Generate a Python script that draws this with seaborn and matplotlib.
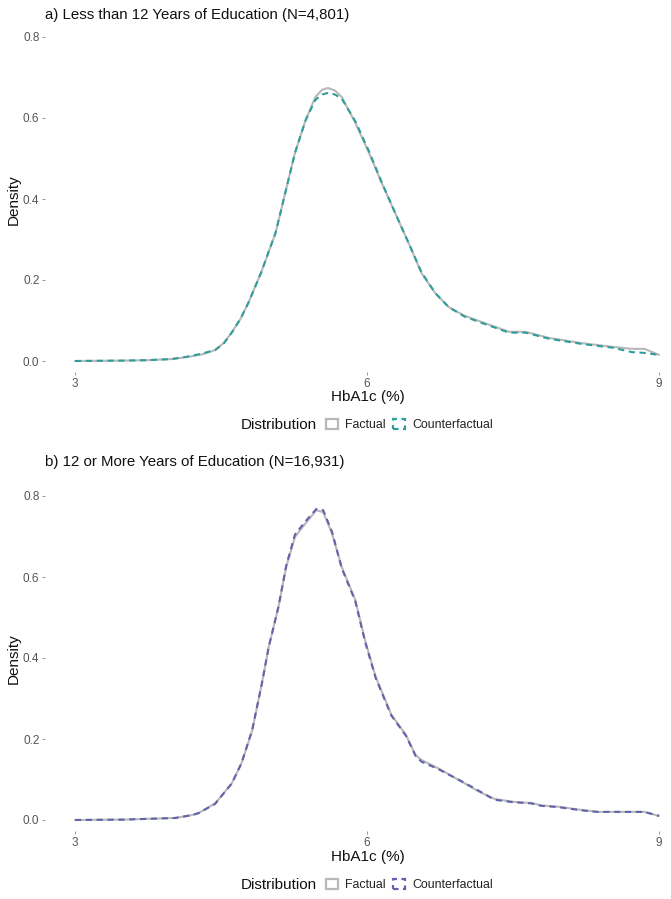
import matplotlib
matplotlib.use("Agg")
import matplotlib.pyplot as plt
import seaborn as sns
import pandas as pd
from matplotlib.patches import Rectangle

sns.set_theme(style="white")
plt.rcParams['font.family'] = ['Liberation Sans', 'DejaVu Sans']

# ---- Data ----
a_fact_x = [3.0, 3.5, 3.75, 4.0, 4.16, 4.3, 4.44, 4.53, 4.61, 4.7, 4.78, 4.91, 5.06, 5.16, 5.26,
            5.37, 5.47, 5.54, 5.60, 5.67, 5.74, 5.88, 6.02, 6.15, 6.29, 6.43, 6.56, 6.70, 6.84,
            7.0, 7.18, 7.32, 7.46, 7.63, 7.87, 8.21, 8.52, 8.72, 8.85, 9.0]
a_fact_y = [0.000, 0.001, 0.002, 0.005, 0.010, 0.016, 0.027, 0.045, 0.070, 0.104, 0.143, 0.217,
            0.316, 0.415, 0.514, 0.595, 0.652, 0.670, 0.674, 0.668, 0.652, 0.588, 0.514, 0.440,
            0.365, 0.290, 0.217, 0.168, 0.133, 0.112, 0.096, 0.084, 0.072, 0.072, 0.057, 0.044,
            0.035, 0.030, 0.030, 0.015]
a_cf_x = a_fact_x
a_cf_y = [0.000, 0.001, 0.002, 0.005, 0.011, 0.018, 0.027, 0.044, 0.070, 0.104, 0.143, 0.217,
          0.316, 0.415, 0.514, 0.595, 0.645, 0.658, 0.662, 0.658, 0.648, 0.592, 0.518, 0.442,
          0.365, 0.290, 0.219, 0.168, 0.133, 0.110, 0.094, 0.082, 0.070, 0.070, 0.055, 0.042,
          0.033, 0.022, 0.020, 0.015]

b_fact_x = [3.0, 3.5, 4.03, 4.2, 4.27, 4.44, 4.61, 4.71, 4.82, 4.92, 4.99, 5.09, 5.17, 5.26,
            5.37, 5.48, 5.55, 5.64, 5.74, 5.88, 5.98, 6.09, 6.25, 6.4, 6.5, 6.56, 6.73, 7.0,
            7.15, 7.31, 7.5, 7.69, 7.79, 7.96, 8.2, 8.37, 8.71, 8.85, 9.0]
b_fact_y = [0.000, 0.001, 0.005, 0.012, 0.017, 0.041, 0.090, 0.140, 0.220, 0.337, 0.427, 0.526,
            0.625, 0.699, 0.733, 0.765, 0.760, 0.708, 0.625, 0.543, 0.444, 0.353, 0.260, 0.210,
            0.160, 0.148, 0.128, 0.091, 0.070, 0.052, 0.045, 0.042, 0.036, 0.033, 0.025, 0.020,
            0.020, 0.020, 0.010]
b_cf_x = b_fact_x
b_cf_y = [0.000, 0.001, 0.005, 0.012, 0.017, 0.040, 0.090, 0.140, 0.222, 0.337, 0.427, 0.526,
          0.628, 0.705, 0.738, 0.768, 0.765, 0.712, 0.622, 0.540, 0.440, 0.350, 0.258, 0.208,
          0.158, 0.144, 0.126, 0.092, 0.072, 0.050, 0.044, 0.041, 0.035, 0.032, 0.024, 0.020,
          0.020, 0.020, 0.010]

titles = ["a) Less than 12 Years of Education (N=4,801)",
          "b) 12 or More Years of Education (N=16,931)"]
series_names = ["Factual", "Counterfactual"]
x_ticks = [3, 6, 9]
y_ticks = [0.0, 0.2, 0.4, 0.6, 0.8]
cf_colors = ["#2e9e9b", "#6262ad"]
fact_color = "#b8b8b8"

W, H = 671, 899
fig = plt.figure(figsize=(W / 100, H / 100), dpi=100)

def px_axes(left, top, right, bottom):
    return fig.add_axes([left / W, 1 - bottom / H, (right - left) / W, (bottom - top) / H])

panels = [
    dict(fx=a_fact_x, fy=a_fact_y, cx=a_cf_x, cy=a_cf_y, top=28, bottom=372, title_y=15,
         xlab_y=397, leg_y=425),
    dict(fx=b_fact_x, fy=b_fact_y, cx=b_cf_x, cy=b_cf_y, top=487, bottom=831, title_y=462,
         xlab_y=857, leg_y=885),
]

# x: 3 -> px 75, 9 -> px 659
x_per = (659 - 75) / 6.0
left_px, right_px = 45, 668
xlim = (3 - (75 - left_px) / x_per, 9 + (right_px - 659) / x_per)

for i, p in enumerate(panels):
    ax = px_axes(left_px, p["top"], right_px, p["bottom"])
    df = pd.concat([
        pd.DataFrame({"HbA1c": p["fx"], "Density": p["fy"], "Distribution": "Factual"}),
        pd.DataFrame({"HbA1c": p["cx"], "Density": p["cy"], "Distribution": "Counterfactual"}),
    ])
    sns.lineplot(data=df, x="HbA1c", y="Density", hue="Distribution", style="Distribution",
                 palette={"Factual": fact_color, "Counterfactual": cf_colors[i]},
                 dashes={"Factual": "", "Counterfactual": (3, 2.2)},
                 linewidth=1.5, legend=False, ax=ax, sort=False, estimator=None)
    y_per = ((p["bottom"] - 11) - (p["top"] + 9)) / 0.8
    ax.set_ylim(-11 / y_per, 0.8 + 9 / y_per)
    ax.set_xlim(*xlim)
    for s in ax.spines.values():
        s.set_visible(False)
    ax.set_xticks(x_ticks)
    ax.set_xticklabels([str(t) for t in x_ticks])
    ax.set_yticks(y_ticks)
    ax.set_yticklabels([f"{t:.1f}" for t in y_ticks])
    ax.tick_params(axis="both", which="both", length=2.5, width=0.6, color="#888888",
                   labelcolor="#555555", labelsize=8.5, pad=1.5, bottom=True, left=True)
    ax.set_xlabel("")
    ax.set_ylabel("Density", fontsize=11, color="#111111")
    ax.yaxis.set_label_coords(-(left_px - 21) / (right_px - left_px), 0.5)
    ax.grid(False)
    ax.set_facecolor("white")

    fig.text(45 / W, 1 - p["title_y"] / H, titles[i], fontsize=10.8, color="#111111",
             ha="left", va="center")
    fig.text(368 / W, 1 - p["xlab_y"] / H, "HbA1c (%)", fontsize=11, color="#111111",
             ha="center", va="center")
    fig.text(241 / W, 1 - p["leg_y"] / H, "Distribution", fontsize=11, color="#111111",
             ha="left", va="center")
    handles = [
        Rectangle((0, 0), 1, 1, facecolor="white", edgecolor=fact_color, linewidth=1.6),
        Rectangle((0, 0), 1, 1, facecolor="white", edgecolor=cf_colors[i], linewidth=1.6,
                  linestyle=(0, (2.5, 2))),
    ]
    fig.legend(handles, series_names, loc="center left",
               bbox_to_anchor=(326 / W, 1 - p["leg_y"] / H), ncol=2, frameon=False,
               fontsize=8.9, handlelength=0.95, handleheight=0.95, handletextpad=0.6,
               columnspacing=0.6, borderaxespad=0, borderpad=0,
               labelcolor="#222222")

fig.savefig("out.png", dpi=100, facecolor="white")
